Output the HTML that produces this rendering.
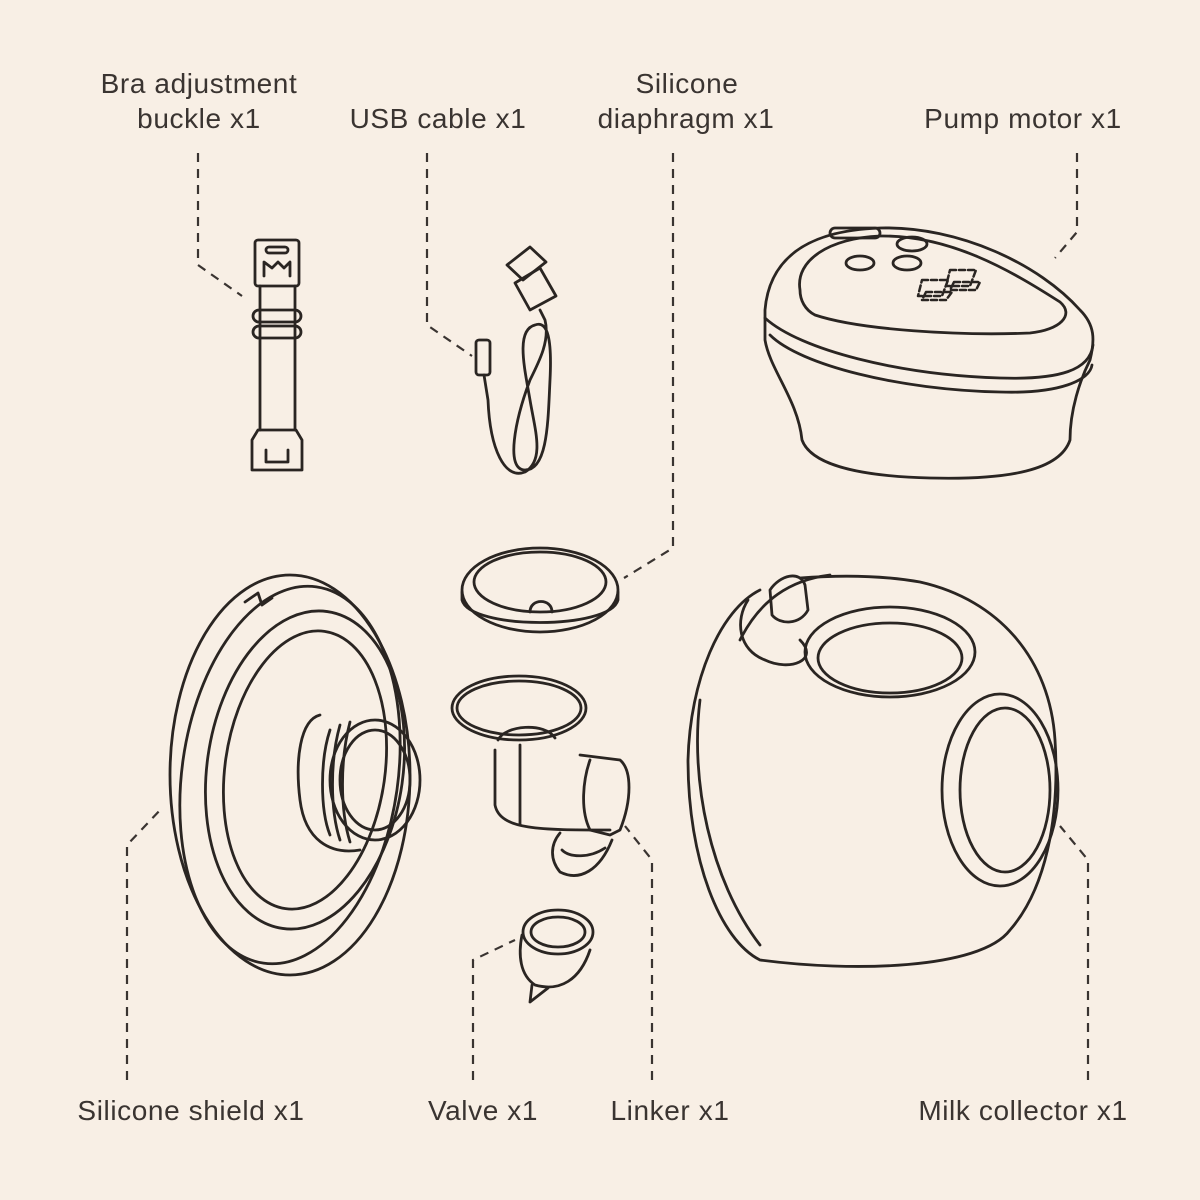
<!DOCTYPE html>
<html><head><meta charset="utf-8"><style>
html,body{margin:0;padding:0;background:#f8efe5;}
svg{display:block}
text{font-family:"Liberation Sans",sans-serif;font-size:28px;letter-spacing:0.6px;fill:#3a3431;}
</style></head><body>
<svg width="1200" height="1200" viewBox="0 0 1200 1200" xmlns="http://www.w3.org/2000/svg">
<rect width="1200" height="1200" fill="#f8efe5"/>
<g text-anchor="middle">
<text x="199" y="93">Bra adjustment</text>
<text x="199" y="128">buckle x1</text>
<text x="438" y="128">USB cable x1</text>
<text x="687" y="93">Silicone</text>
<text x="686" y="128">diaphragm x1</text>
<text x="1023" y="128">Pump motor x1</text>
<text x="191" y="1120">Silicone shield x1</text>
<text x="483" y="1120">Valve x1</text>
<text x="670" y="1120">Linker x1</text>
<text x="1023" y="1120">Milk collector x1</text>
</g>
<g fill="none" stroke="#3a3431" stroke-width="2.2" stroke-dasharray="9,7">
<path d="M198 153 V265 L242 296"/>
<path d="M427 153 V325 L472 356"/>
<path d="M673 153 V548 L624 578"/>
<path d="M1077 153 V232 L1055 258"/>
<path d="M127 1080 V845 L162 808"/>
<path d="M473 1080 V960 L515 940"/>
<path d="M652 1080 V860 L625 826"/>
<path d="M1088 1080 V860 L1060 826"/>
</g>
<g fill="none" stroke="#2a2522" stroke-width="2.8" stroke-linejoin="round" stroke-linecap="round">
<rect x="255" y="240" width="44" height="46" rx="3"/>
<rect x="266" y="247" width="22" height="6" rx="3"/>
<path d="M264 276 V262 L272 268 L278 262 L284 268 L290 262 V276"/>
<path d="M260 286 V430 M295 286 V430"/>
<rect x="253" y="310" width="48" height="12" rx="6"/>
<rect x="253" y="326" width="48" height="12" rx="6"/>
<path d="M252 440 L258 430 H296 L302 440 V470 H252 Z"/>
<path d="M266 450 V462 H288 V450"/>
<path d="M507 265 L530 247 L546 262 L523 280 Z"/>
<path d="M515 283 L540 268 L556 296 L530 310 Z"/>
<path d="M540 310 L545 320 C550 340 540 360 530 380 C515 420 505 470 525 470 C548 470 548 420 550 380 C552 340 548 320 535 325 C515 330 525 370 530 400 C535 430 545 460 525 472 C505 480 490 450 488 400 L484 375"/>
<rect x="476" y="340" width="14" height="35" rx="3"/>
<path d="M765 310 C770 250 820 230 880 228 C960 226 1040 265 1080 310 C1095 325 1095 340 1090 360 C1080 380 1070 410 1070 440 C1060 470 1010 480 930 478 C850 476 810 462 802 440 C798 400 770 370 765 340 Z"/>
<path d="M765 318 C800 350 900 375 1000 378 C1060 380 1090 370 1093 345"/>
<path d="M770 335 C800 365 900 390 1000 392 C1060 394 1090 380 1092 365"/>
<path d="M800 290 C795 260 830 238 880 236 C950 235 1010 270 1060 302 C1075 315 1060 330 1030 333 C960 336 860 330 815 315 C805 310 800 300 800 290 Z"/>
<ellipse cx="912" cy="244" rx="15" ry="7"/>
<ellipse cx="860" cy="263" rx="14" ry="7"/>
<ellipse cx="907" cy="263" rx="14" ry="7"/>
<rect x="830" y="228" width="50" height="10" rx="5"/>
<g stroke-width="2.5" stroke-dasharray="6,3"><path d="M922 280 H948 L942 296 H918 Z M950 270 H976 L970 286 H946 Z M926 292 H952 L946 300 H922 Z M954 282 H980 L976 290 H950 Z"/></g>
<ellipse cx="540" cy="590" rx="78" ry="42"/>
<ellipse cx="540" cy="582" rx="66" ry="30"/>
<path d="M462 592 V600 C470 630 610 630 618 600 V592"/>
<path d="M530 612 C530 598 552 598 552 612"/>
<ellipse cx="519" cy="708" rx="67" ry="32"/>
<ellipse cx="519" cy="708" rx="62" ry="27"/>
<path d="M495 750 V805 C500 830 540 830 610 830"/>
<path d="M520 745 V825"/>
<path d="M498 740 C505 725 545 722 555 738"/>
<path d="M580 755 L620 760 C632 770 632 800 620 830 L610 835 L590 830 C580 810 583 780 590 760"/>
<path d="M560 833 C550 845 550 860 560 872 C580 882 600 870 612 840"/>
<path d="M562 850 C570 858 590 858 605 848"/>
<ellipse cx="558" cy="932" rx="35" ry="22"/>
<ellipse cx="558" cy="932" rx="27" ry="15"/>
<path d="M522 935 C518 955 520 975 535 985 C560 992 580 980 590 950"/>
<path d="M532 985 L530 1002 L548 988"/>
<ellipse cx="290" cy="775" rx="120" ry="200"/>
<ellipse cx="290" cy="775" rx="108" ry="190" transform="rotate(8 290 775)"/>
<path d="M245 602 L258 593 L262 605 L272 598"/>
<ellipse cx="305" cy="770" rx="98" ry="160" transform="rotate(8 305 770)"/>
<ellipse cx="305" cy="770" rx="80" ry="140" transform="rotate(8 305 770)"/>
<path d="M320 715 C300 720 295 760 300 800 C305 840 330 855 360 850"/>
<ellipse cx="375" cy="780" rx="45" ry="60"/>
<ellipse cx="375" cy="780" rx="35" ry="50"/>
<path d="M330 730 C320 760 320 810 330 835 M340 725 C330 760 330 810 340 840 M350 722 C340 760 340 810 350 842"/>
<path d="M760 590 C720 610 690 680 688 760 C688 860 720 940 760 960 C850 972 980 970 1010 930 C1045 890 1060 820 1055 740 C1050 660 1000 600 920 582 C880 575 840 575 800 578"/>
<path d="M748 600 C735 620 738 650 765 660 C790 672 820 660 800 640"/>
<path d="M740 640 C760 600 790 580 830 575"/>
<path d="M770 590 C780 575 800 570 805 585 L808 610 C800 625 780 625 772 615 Z"/>
<ellipse cx="890" cy="652" rx="85" ry="45"/>
<ellipse cx="890" cy="658" rx="72" ry="35"/>
<ellipse cx="1000" cy="790" rx="58" ry="96"/>
<ellipse cx="1005" cy="790" rx="45" ry="82"/>
<path d="M700 700 C690 780 710 880 760 945"/>
</g>
</svg>
</body></html>
